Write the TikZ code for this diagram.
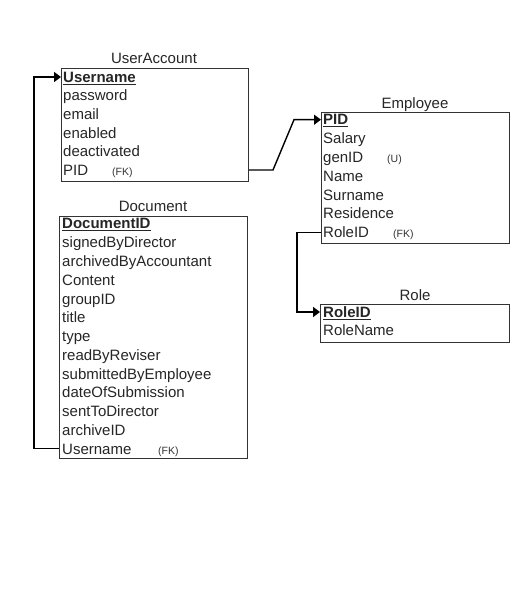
\documentclass[tikz,border=0pt]{standalone}
\usepackage{fontspec}
\setmainfont{Liberation Sans}
\usetikzlibrary{arrows.meta}
\tikzset{
  box/.style={draw=black!80, line width=1pt, anchor=north west, inner sep=0pt, fill=none},
  row/.style={anchor=west, inner sep=0pt, text height=13pt, text depth=2.4pt, font=\fontsize{15}{17}\selectfont, text=black!85},
  keyrow/.style={row, font=\fontsize{15}{17}\selectfont\bfseries},
  note/.style={anchor=west, inner sep=0pt, text height=13pt, text depth=2.4pt, font=\fontsize{10.5}{12}\selectfont, text=black!80},
  title/.style={anchor=base, inner sep=0pt, font=\fontsize{15}{17}\selectfont, text=black!85},
  conn/.style={draw=black, line width=1.4pt},
  tip/.style={-{Triangle[length=7pt,width=10pt]}}
}
\begin{document}
\begin{tikzpicture}[x=1pt,y=-1pt]
\useasboundingbox (0,0) rectangle (531,601);
\fill[white] (0,0) rectangle (531,601);

% UserAccount
\node[title] (uat) at (154,64) {UserAccount};
\node[box, minimum width=187pt, minimum height=113.3pt] (ua) at (61,67.7) {};
\node[keyrow] (ua1) at (63,77) {\underline{Username}};
\node[row] (ua2) at (63,95.6) {password};
\node[row] (ua3) at (63,114.2) {email};
\node[row] (ua4) at (63,132.8) {enabled};
\node[row] (ua5) at (63,151.4) {deactivated};
\node[row] (ua6) at (63,170) {PID};
\node[note] (ua6n) at (112,170) {(FK)};

% Employee
\node[title] (empt) at (415,108.3) {Employee};
\node[box, minimum width=188pt, minimum height=131pt] (emp) at (321,112) {};
\node[keyrow] (emp1) at (323,119.7) {\underline{PID}};
\node[row] (emp2) at (323,138.5) {Salary};
\node[row] (emp3) at (323,157.3) {genID};
\node[note] (emp3n) at (387,157.3) {(U)};
\node[row] (emp4) at (323,176.1) {Name};
\node[row] (emp5) at (323,194.9) {Surname};
\node[row] (emp6) at (323,213.7) {Residence};
\node[row] (emp7) at (323,232.4) {RoleID};
\node[note] (emp7n) at (393,232.4) {(FK)};

% Role
\node[title] (rolet) at (415,300) {Role};
\node[box, minimum width=189pt, minimum height=37.4pt] (role) at (320,304.3) {};
\node[keyrow] (role1) at (323,312) {\underline{RoleID}};
\node[row] (role2) at (323,329.7) {RoleName};

% Document
\node[title] (doct) at (153,211.7) {Document};
\node[box, minimum width=188pt, minimum height=242pt] (doc) at (59,216) {};
\node[keyrow] (doc1) at (62,223.7) {\underline{DocumentID}};
\node[row] (doc2) at (62,242.45) {signedByDirector};
\node[row] (doc3) at (62,261.2) {archivedByAccountant};
\node[row] (doc4) at (62,279.95) {Content};
\node[row] (doc5) at (62,298.7) {groupID};
\node[row] (doc6) at (62,317.45) {title};
\node[row] (doc7) at (62,336.2) {type};
\node[row] (doc8) at (62,354.95) {readByReviser};
\node[row] (doc9) at (62,373.7) {submittedByEmployee};
\node[row] (doc10) at (62,392.45) {dateOfSubmission};
\node[row] (doc11) at (62,411.2) {sentToDirector};
\node[row] (doc12) at (62,429.95) {archiveID};
\node[row] (doc13) at (62,448.7) {Username};
\node[note] (doc13n) at (158,448.7) {(FK)};

% connectors
\coordinate (bend) at (294,119.7);
\draw[conn, tip] (doc.west |- doc13) -- ++(-25,0) |- (ua.west |- ua1);
\draw[conn, tip] (ua.east |- ua6) -- ++(24,0) -- (bend) -- (emp.west |- emp1);
\draw[conn, tip] (emp.west |- emp7) -- ++(-24,0) |- (role.west |- role1);
\end{tikzpicture}
\end{document}
